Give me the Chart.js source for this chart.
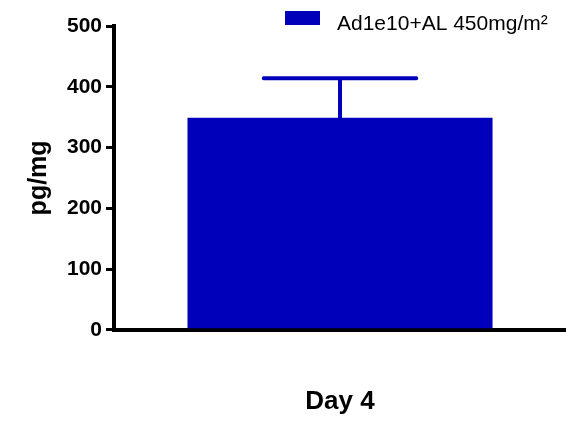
<!DOCTYPE html>
<html>
<head>
<meta charset="utf-8">
<script src="https://cdn.jsdelivr.net/npm/chart.js@4"></script>
<style>
  html, body { margin: 0; padding: 0; background: #fff; overflow: hidden; }
  #wrap { position: relative; width: 566px; height: 421px; }
</style>
</head>
<body>
<div id="wrap"><canvas id="myChart"></canvas></div>
<script>
const categories = ['Day 4'];
const seriesName = 'Ad1e10+AL 450mg/m²';
const means = [349];
const errUpper = [414]; // mean + SD
const yTicks = [0, 100, 200, 300, 400, 500];

const barColor = '#0000BB';
const fontFamily = 'Arial, "Liberation Sans", sans-serif';

// error bar drawn from the data via the y scale
const errorBars = {
    id: 'errorBars',
    afterDatasetsDraw(chart) {
        const ctx = chart.ctx;
        const meta = chart.getDatasetMeta(0);
        const y = chart.scales.y;
        ctx.save();
        ctx.strokeStyle = barColor;
        ctx.lineWidth = 4;
        ctx.lineCap = 'round';
        meta.data.forEach(function (bar, i) {
            const top = y.getPixelForValue(errUpper[i]);
            const base = y.getPixelForValue(means[i]);
            const half = bar.width * 0.25;
            ctx.beginPath();
            ctx.moveTo(bar.x, base);
            ctx.lineTo(bar.x, top);
            ctx.moveTo(bar.x - half, top);
            ctx.lineTo(bar.x + half, top);
            ctx.stroke();
        });
        ctx.restore();
    }
};

// legend in the top right corner, box + label
const cornerLegend = {
    id: 'cornerLegend',
    afterDraw(chart) {
        const ctx = chart.ctx;
        const ds = chart.data.datasets[0];
        const x = chart.width - 281;
        ctx.save();
        ctx.fillStyle = ds.backgroundColor;
        ctx.fillRect(x, 11, 35, 14);
        ctx.fillStyle = '#000';
        ctx.font = '21px ' + fontFamily;
        ctx.textBaseline = 'alphabetic';
        ctx.fillText(ds.label, x + 52, 30);
        ctx.restore();
    }
};

const data = {
    labels: categories,
    datasets: [{
        label: seriesName,
        data: means,
        backgroundColor: barColor,
        borderWidth: 0,
        categoryPercentage: 1,
        barPercentage: 0.675
    }]
};

const config = {
    type: 'bar',
    data: data,
    options: {
        responsive: true,
        maintainAspectRatio: false,
        animation: false,
        layout: { padding: { left: 11, right: 0, top: 26, bottom: 0 } },
        plugins: {
            legend: { display: false },
            tooltip: { enabled: false }
        },
        scales: {
            x: {
                grid: { display: false, drawTicks: false },
                border: { color: '#000', width: 4 },
                ticks: { display: false },
                title: {
                    display: true,
                    text: categories[0],
                    color: '#000',
                    padding: { top: 56, bottom: 4 },
                    font: { family: fontFamily, size: 26, weight: 'bold' }
                }
            },
            y: {
                min: 0,
                max: 500,
                afterBuildTicks(axis) { axis.ticks = yTicks.map(v => ({ value: v })); },
                grid: { drawOnChartArea: false, drawTicks: true, tickLength: 8, color: '#000', lineWidth: 3 },
                border: { color: '#000', width: 4 },
                ticks: {
                    padding: 4,
                    color: '#000',
                    font: { family: fontFamily, size: 21, weight: 'bold' }
                },
                title: {
                    display: true,
                    text: 'pg/mg',
                    color: '#000',
                    padding: { top: 13, bottom: 9 },
                    font: { family: fontFamily, size: 25, weight: 'bold' }
                }
            }
        }
    },
    plugins: [errorBars, cornerLegend]
};

const myChart = new Chart(
    document.getElementById('myChart'),
    config
);
</script>
</body>
</html>
